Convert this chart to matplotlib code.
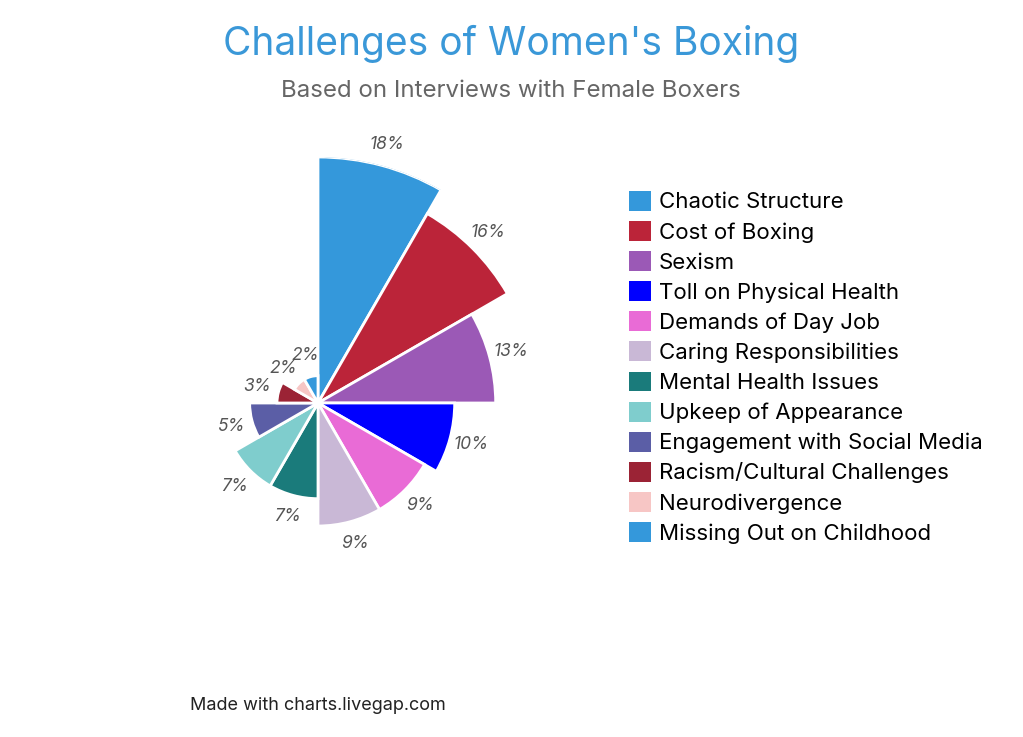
import numpy as np
import matplotlib
matplotlib.use("Agg")
import matplotlib.pyplot as plt
from matplotlib.patches import Patch

categories = ["Chaotic Structure", "Cost of Boxing", "Sexism", "Toll on Physical Health",
              "Demands of Day Job", "Caring Responsibilities", "Mental Health Issues",
              "Upkeep of Appearance", "Engagement with Social Media",
              "Racism/Cultural Challenges", "Neurodivergence", "Missing Out on Childhood"]
values = [18, 16, 13, 10, 9, 9, 7, 7, 5, 3, 2, 2]
colors = ["#3498db", "#bb2439", "#9b59b6", "#0000ff", "#e96bd6", "#c9b8d6",
          "#1a7b7b", "#7fcdcd", "#5b5ea6", "#9b2335", "#f7c6c5", "#3498db"]

plt.rcParams['font.family'] = ['Inter', 'DejaVu Sans']

W, H = 1023, 737
fig = plt.figure(figsize=(W / 100, H / 100), dpi=100)

# polar axes: centre at (318, 403) px, radius 246 px for the max value
cx, cy, R = 318, 403, 246
ax = fig.add_axes([(cx - R) / W, 1 - (cy + R) / H, 2 * R / W, 2 * R / H], projection='polar')
ax.set_theta_zero_location('N')
ax.set_theta_direction(-1)

n = len(values)
step = 2 * np.pi / n
theta = np.arange(n) * step + step / 2
ax.bar(theta, values, width=step, color=colors, edgecolor='white', linewidth=2, align='center')
ax.set_ylim(0, max(values))
ax.axis('off')

pad = 22 / R * max(values)
for t, v in zip(theta, values):
    ax.text(t, v + pad, f"{v}%", ha='center', va='center', fontsize=12.5,
            style='italic', color='#555555')

fig.text(511 / W, 1 - 44 / H, "Challenges of Women's Boxing", ha='center', va='center',
         fontsize=28, color='#3a98d8')
fig.text(511 / W, 1 - 91 / H, "Based on Interviews with Female Boxers", ha='center', va='center',
         fontsize=17.3, color='#666666')
fig.text(190 / W, 1 - 706 / H, "Made with charts.livegap.com", ha='left', va='center',
         fontsize=13, color='#222222')

handles = [Patch(facecolor=c, edgecolor='none') for c in colors]
fig.legend(handles, categories, loc='upper left', bbox_to_anchor=(620 / W, 1 - 182 / H),
           frameon=False, fontsize=16, handlelength=1.0, handleheight=1.0,
           handletextpad=0.35, labelspacing=0.385, borderaxespad=0)

fig.savefig("out.png", dpi=100, facecolor='white')
